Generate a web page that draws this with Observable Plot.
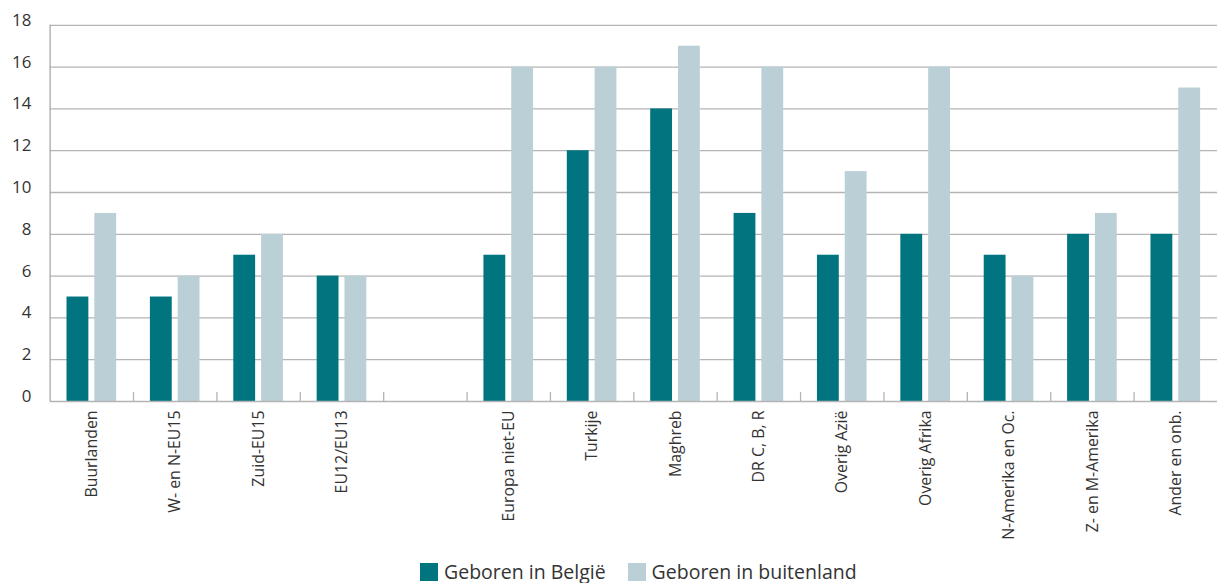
<!DOCTYPE html>
<html>
<head>
<meta charset="utf-8">
<script src="https://cdn.jsdelivr.net/npm/d3@7"></script>
<script src="https://cdn.jsdelivr.net/npm/@observablehq/plot@0.6"></script>
<style>
  html, body { margin: 0; padding: 0; background: #fff; overflow: hidden; width: 1217px; height: 583px; }
  #chart { position: absolute; left: 0; top: 0; }
  #legend { position: absolute; left: 420px; top: 563px; display: flex; font-family: "Open Sans", sans-serif; font-size: 19.5px; color: #333; }
  .item { display: flex; align-items: center; margin-right: 22px; line-height: 18px; }
  .sw { width: 18px; height: 18px; margin-right: 6px; }
</style>
</head>
<body>
<div id="chart"></div>
<div id="legend"></div>
<script>
const categories = ["Buurlanden", "W- en N-EU15", "Zuid-EU15", "EU12/EU13", "", "Europa niet-EU", "Turkije", "Maghreb", "DR C, B, R", "Overig Azië", "Overig Afrika", "N-Amerika en Oc.", "Z- en M-Amerika", "Ander en onb."];
const geborenBelgie = [5, 5, 7, 6, null, 7, 12, 14, 9, 7, 8, 7, 8, 8];
const geborenBuitenland = [9, 6, 8, 6, null, 16, 16, 17, 16, 11, 16, 6, 9, 15];
const seriesNames = ["Geboren in België", "Geboren in buitenland"];
const seriesColors = ["#00757f", "#bbd0d6"];
const yTicks = [0, 2, 4, 6, 8, 10, 12, 14, 16, 18];

const rows = categories.map((c, i) => ({cat: c, a: geborenBelgie[i], b: geborenBuitenland[i]})).filter(d => d.a != null);

const grid = "#b4b4b4";
const chart = Plot.plot({
  width: 1226,
  height: 556,
  marginLeft: 50,
  marginRight: 0,
  marginTop: 25,
  marginBottom: 152,
  style: {fontFamily: "Open Sans, sans-serif", fontSize: "16px", color: "#333", background: "#fff"},
  x: {domain: categories, padding: 0, label: null},
  y: {domain: [0, 18], label: null},
  marks: [
    Plot.ruleY(yTicks.filter(v => v > 0), {stroke: grid, strokeWidth: 1.3}),
    Plot.barY(rows, {x: "cat", y: "a", fill: seriesColors[0], insetLeft: 17, insetRight: 45}),
    Plot.barY(rows, {x: "cat", y: "b", fill: seriesColors[1], insetLeft: 45, insetRight: 17}),
    Plot.ruleX(categories.slice(0, -1), {x: d => d, dx: 42, insetTop: 370, stroke: grid, strokeWidth: 1.3}),
    Plot.ruleX([categories[0]], {x: d => d, dx: -42, stroke: grid, strokeWidth: 1.5}),
    Plot.ruleY([0], {stroke: grid, strokeWidth: 1.6}),
    Plot.axisY({ticks: yTicks, tickSize: 0, tickPadding: 19, fontSize: 17, dy: -5, label: null}),
    Plot.axisX({tickSize: 0, tickPadding: 9, tickRotate: -90, fontSize: 16, label: null})
  ]
});
document.getElementById("chart").appendChild(chart);

const legend = document.getElementById("legend");
seriesNames.forEach((n, i) => {
  const it = document.createElement("div");
  it.className = "item";
  const sw = document.createElement("div");
  sw.className = "sw";
  sw.style.background = seriesColors[i];
  const t = document.createElement("span");
  t.textContent = n;
  it.appendChild(sw);
  it.appendChild(t);
  legend.appendChild(it);
});
</script>
</body>
</html>
